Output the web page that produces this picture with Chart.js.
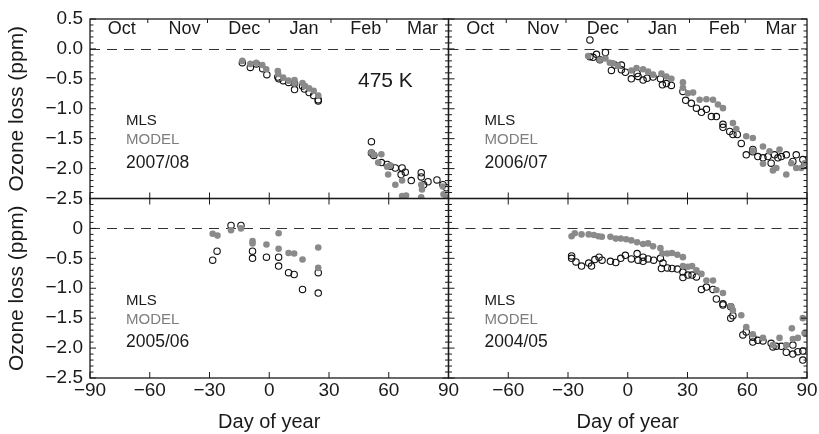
<!DOCTYPE html>
<html>
<head>
<meta charset="utf-8">
<script src="https://cdn.jsdelivr.net/npm/chart.js@4.4.1/dist/chart.umd.min.js"></script>
<style>
html,body{margin:0;padding:0;background:#fff;}
#wrap{position:relative;width:819px;height:434px;}
canvas{display:block;}
</style>
</head>
<body>
<div id="wrap"><canvas id="c" width="819" height="434"></canvas></div>
<script>
// ---------- data (day of year, ozone loss ppm) ----------
const monthNames = ['Oct','Nov','Dec','Jan','Feb','Mar'];
const monthLabelDays = [-74, -42.5, -12.5, 17.5, 48.5, 77];
const monthStartDays = [-61, -31, 0, 31, 59];
const xTickValues = [-90,-60,-30,0,30,60,90];
const yTickValues = [0.5,0,-0.5,-1,-1.5,-2,-2.5];

// 2007/08 (top-left)
const mls0708Days = [-13.5,-9.5,-6.5,-3.3,-1.2,4.3,4.8,7,9.7,12.7,12.7,16.7,17.7,20,22.3,24.6,24.6,51.3,51.3,52.5,56.3,59.2,60.8,63.3,66.2,66.7,68.3,71.3,76.3,76.3,77.5,79.7,84.2,87.2,89];
const mls0708Vals = [-0.23,-0.31,-0.25,-0.33,-0.43,-0.47,-0.50,-0.53,-0.56,-0.58,-0.68,-0.62,-0.67,-0.73,-0.78,-0.85,-0.87,-1.55,-1.74,-1.78,-1.90,-1.93,-1.96,-1.99,-2.10,-1.99,-2.06,-2.20,-2.07,-2.14,-2.27,-2.22,-2.19,-2.27,-2.32];
const mod0708Days = [-13.5,-9.5,-6.5,-3.5,-1.5,4.3,4.5,7,9.7,12.7,12.7,16.7,18,20,22.3,24.6,51.3,52.5,54.7,56.3,59.2,59.7,60.8,63.3,66.7,66.7,68.7,76.3,76.3,76.7,87.2,87.5,89];
const mod0708Vals = [-0.20,-0.25,-0.23,-0.27,-0.34,-0.37,-0.42,-0.48,-0.53,-0.52,-0.58,-0.57,-0.62,-0.66,-0.70,-0.78,-1.73,-1.77,-1.90,-1.76,-1.97,-2.10,-1.95,-2.27,-2.20,-2.46,-2.45,-2.27,-2.48,-2.35,-2.30,-2.43,-2.48];

// 2006/07 (top-right)
const mls0607Days = [-19,-19,-17.4,-15.7,-14,-11.2,-8.2,-6.5,-3.2,-3.2,-1.2,1.8,4.7,5.2,7.7,9.7,12.7,16.4,17.4,19.4,21.9,27.7,29.1,31.9,34.5,37,39.5,42,44.5,47.8,47.8,51.2,52.8,55,57,59.5,62.8,62.8,65.3,67.9,70.4,72,73.7,75.4,77.1,79.6,82.9,84.6,87.9,88.8];
const mls0607Vals = [0.15,-0.13,-0.14,-0.09,-0.18,-0.06,-0.36,-0.27,-0.27,-0.35,-0.39,-0.50,-0.41,-0.46,-0.52,-0.49,-0.47,-0.50,-0.60,-0.58,-0.61,-0.71,-0.86,-0.91,-0.99,-1.06,-1.01,-1.13,-1.13,-1.26,-1.31,-1.38,-1.43,-1.43,-1.58,-1.77,-1.68,-1.72,-1.80,-1.82,-1.80,-1.91,-1.77,-1.82,-1.80,-1.77,-1.88,-1.77,-1.85,-1.93];
const mod0607Days = [-19.9,-14,-11.2,-9,-7.4,-4.9,1.8,4.4,7.7,10.2,12.7,16.9,19.4,21.9,27.7,27.7,30.2,32.8,36.1,39.5,42.8,45.3,47.8,52.8,54.5,59.5,62.8,62.8,67.9,71.2,72.9,74.6,76.2,79.6,82.1,84.6,87.1,88.8,67.9];
const mod0607Vals = [-0.12,-0.18,-0.16,-0.23,-0.24,-0.28,-0.36,-0.32,-0.34,-0.38,-0.43,-0.41,-0.46,-0.50,-0.56,-0.65,-0.74,-0.73,-0.85,-0.84,-0.85,-0.93,-0.99,-1.24,-1.34,-1.46,-1.49,-1.70,-1.63,-1.71,-2.03,-1.99,-1.68,-2.10,-1.91,-1.99,-1.99,-1.91,-1.92];

// 2005/06 (bottom-left)
const mls0506Days = [-28.4,-26.2,-19.2,-14.2,-8.4,-8.4,-1.4,4.7,4.7,9.7,12.5,16.7,24.6,24.6];
const mls0506Vals = [-0.53,-0.38,0.05,0.05,-0.38,-0.50,-0.48,-0.48,-0.63,-0.74,-0.77,-1.02,-0.74,-1.08];
const mod0506Days = [-28.4,-26,-19.2,-14.2,-8.4,-8.4,-1.4,4.7,4.7,9.7,12.5,16.7,24.6,24.6];
const mod0506Vals = [-0.09,-0.12,-0.03,0.0,-0.21,-0.25,-0.27,-0.08,-0.34,-0.41,-0.42,-0.52,-0.32,-0.66];

// 2004/05 (bottom-right)
const mls0405Days = [-28.2,-28.2,-26,-23.2,-19.6,-18.2,-16.5,-14.4,-12.9,-8.7,-6,-3.5,-1.2,1.8,4.7,5.2,7.7,7.7,10.2,13,16.4,16.9,17.7,19.9,22.2,24.9,27.7,27.7,30.2,32.3,34.5,37,39.5,42.8,44.5,47.8,47.8,51.7,51.7,52.8,57.8,59.5,62.8,62.8,65.3,67.9,72,72.9,74.6,77.1,79.6,82.9,82.9,85.4,87.9,87.9];
const mls0405Vals = [-0.46,-0.50,-0.56,-0.63,-0.58,-0.63,-0.52,-0.48,-0.53,-0.55,-0.57,-0.50,-0.45,-0.51,-0.42,-0.53,-0.48,-0.55,-0.51,-0.53,-0.50,-0.67,-0.58,-0.66,-0.67,-0.68,-0.73,-0.82,-0.78,-0.78,-0.81,-1.02,-0.98,-1.02,-1.18,-1.26,-1.28,-1.31,-1.50,-1.46,-1.78,-1.73,-1.90,-1.82,-1.87,-1.88,-1.92,-1.98,-1.97,-1.97,-2.07,-1.95,-2.10,-2.06,-2.05,-2.20];
const mod0405Days = [-28.2,-26.6,-23.2,-19.6,-17,-14.7,-13,-8.7,-6,-3.5,-0.8,1.8,4.7,7.7,10.2,12.7,16.4,17.4,19.9,22.2,24.9,27.7,27.7,30.2,32.3,34.5,37,39.5,42.8,44.5,47.8,51.7,52.8,57,59.5,62.8,67.9,72.9,76.2,79.6,82.4,82.9,85.4,87.9,88.8];
const mod0405Vals = [-0.13,-0.08,-0.10,-0.10,-0.11,-0.13,-0.14,-0.14,-0.17,-0.17,-0.18,-0.20,-0.23,-0.26,-0.25,-0.30,-0.33,-0.42,-0.42,-0.41,-0.44,-0.48,-0.63,-0.64,-0.63,-0.70,-0.76,-0.87,-0.87,-1.03,-1.08,-1.30,-1.37,-1.45,-1.65,-1.77,-1.83,-1.95,-1.83,-1.95,-1.67,-1.85,-1.83,-1.50,-1.75];

// ---------- chart ----------
const FONT = "'Liberation Sans', Arial, Helvetica, sans-serif";
Chart.defaults.font.family = FONT;
const INK = '#1a1a1a';
const GREY = '#8a8a8a';

const pts = (d, v) => d.map((x, i) => ({x: x, y: v[i]}));

const PANELS = [
  {x: 'xL', y: 'yT', year: '2007/08', top: true, tag: '475 K'},
  {x: 'xR', y: 'yT', year: '2006/07', top: true},
  {x: 'xL', y: 'yB', year: '2005/06', top: false},
  {x: 'xR', y: 'yB', year: '2004/05', top: false}
];

function modelSet(d, v, xa, ya) {
  return {label: 'MODEL', data: pts(d, v), xAxisID: xa, yAxisID: ya,
    pointRadius: 3.3, pointBackgroundColor: GREY, pointBorderWidth: 0, showLine: false};
}
function mlsSet(d, v, xa, ya) {
  return {label: 'MLS', data: pts(d, v), xAxisID: xa, yAxisID: ya,
    pointRadius: 3.2, pointBackgroundColor: 'rgba(0,0,0,0)', pointBorderColor: '#111',
    pointBorderWidth: 1.1, showLine: false};
}

const datasets = [
  modelSet(mod0708Days, mod0708Vals, 'xL', 'yT'), mlsSet(mls0708Days, mls0708Vals, 'xL', 'yT'),
  modelSet(mod0607Days, mod0607Vals, 'xR', 'yT'), mlsSet(mls0607Days, mls0607Vals, 'xR', 'yT'),
  modelSet(mod0506Days, mod0506Vals, 'xL', 'yB'), mlsSet(mls0506Days, mls0506Vals, 'xL', 'yB'),
  modelSet(mod0405Days, mod0405Vals, 'xR', 'yB'), mlsSet(mls0405Days, mls0405Vals, 'xR', 'yB')
];

const minus = v => (v < 0 ? '\u2212' : '');
function xScale(isRight) {
  return {
    type: 'linear', position: 'bottom', stack: 'xs', stackWeight: 1,
    min: -90, max: 90,
    afterBuildTicks: s => { s.ticks = xTickValues.map(v => ({value: v})); },
    ticks: {autoSkip: false, maxRotation: 0, padding: 1, color: INK, font: {size: 19},
      callback: v => (isRight && v === -90) ? '' : minus(v) + Math.abs(v)},
    grid: {display: false, drawTicks: false}, border: {display: false},
    title: {display: true, text: 'Day of year', color: INK, font: {size: 20}, padding: {top: 0, bottom: 0}},
    afterFit: s => { s.height = 56; }
  };
}
function yScale(isTop) {
  return {
    type: 'linear', position: 'left', stack: 'ys', stackWeight: 1,
    min: -2.5, max: 0.5,
    afterBuildTicks: s => { s.ticks = yTickValues.map(v => ({value: v})); },
    ticks: {autoSkip: false, padding: 7, color: INK, font: {size: 19},
      callback: v => {
        if (!isTop && v > 0.4) return '';
        if (!isTop && Math.abs(v) < 1e-9) return '0';
        return minus(v) + Math.abs(v).toFixed(1);
      }},
    grid: {display: false, drawTicks: false}, border: {display: false},
    title: {display: true, text: 'Ozone loss (ppm)', color: INK, font: {size: 21}, padding: {top: 5, bottom: 0}},
    afterFit: s => { s.width = 90; }
  };
}

const clipPlugin = {
  id: 'panelClip',
  beforeDatasetDraw(chart, args) {
    const ds = chart.data.datasets[args.index];
    const xs = chart.scales[ds.xAxisID], ys = chart.scales[ds.yAxisID];
    const ctx = chart.ctx;
    ctx.save();
    ctx.beginPath();
    ctx.rect(xs.left, ys.top, xs.right - xs.left, ys.bottom - ys.top);
    ctx.clip();
  },
  afterDatasetDraw(chart) { chart.ctx.restore(); }
};

const decor = {
  id: 'decor',
  beforeDatasetsDraw(chart) {
    const ctx = chart.ctx;
    PANELS.forEach(p => {
      const xs = chart.scales[p.x], ys = chart.scales[p.y];
      const y0 = Math.round(ys.getPixelForValue(0)) + 0.5;
      ctx.save();
      ctx.strokeStyle = '#333';
      ctx.lineWidth = 1;
      ctx.setLineDash([10, 7]);
      ctx.beginPath();
      ctx.moveTo(xs.left, y0);
      ctx.lineTo(xs.right, y0);
      ctx.stroke();
      ctx.restore();
    });
  },
  afterDatasetsDraw(chart) {
    const ctx = chart.ctx;
    ctx.save();
    PANELS.forEach(p => {
      const xs = chart.scales[p.x], ys = chart.scales[p.y];
      const L = xs.left, R = xs.right, T = ys.top, B = ys.bottom;
      ctx.strokeStyle = INK;
      ctx.lineWidth = 1.3;
      ctx.strokeRect(L, T, R - L, B - T);
      ctx.lineWidth = 1;
      ctx.beginPath();
      // y ticks (major 0.5, minor 0.1), both sides, inward
      for (let k = -25; k <= 5; k++) {
        const v = k / 10;
        const py = ys.getPixelForValue(v);
        const len = (k % 5 === 0) ? 6 : 3.5;
        ctx.moveTo(L, py); ctx.lineTo(L + len, py);
        ctx.moveTo(R, py); ctx.lineTo(R - len, py);
      }
      // x ticks every 30 days at bottom (and top of lower panels)
      xTickValues.forEach(v => {
        const px = xs.getPixelForValue(v);
        ctx.moveTo(px, B); ctx.lineTo(px, B - 6);
        if (!p.top) { ctx.moveTo(px, T); ctx.lineTo(px, T + 6); }
      });
      // month boundary ticks at top of upper panels
      if (p.top) {
        monthStartDays.forEach(v => {
          const px = xs.getPixelForValue(v);
          ctx.moveTo(px, T); ctx.lineTo(px, T + 4);
        });
      }
      ctx.stroke();

      // texts
      ctx.textBaseline = 'middle';
      if (p.top) {
        ctx.fillStyle = INK;
        ctx.textAlign = 'center';
        ctx.font = '18px ' + FONT;
        monthNames.forEach((m, i) => {
          ctx.fillText(m, xs.getPixelForValue(monthLabelDays[i]), T + 10.5);
        });
      }
      const y0 = ys.getPixelForValue(0);
      ctx.textAlign = 'left';
      ctx.font = '15px ' + FONT;
      ctx.fillStyle = INK;
      ctx.fillText('MLS', L + 36, y0 + 72);
      ctx.fillStyle = '#7d7d7d';
      ctx.fillText('MODEL', L + 36, y0 + 91);
      ctx.fillStyle = INK;
      ctx.font = '17.5px ' + FONT;
      ctx.fillText(p.year, L + 36, y0 + 114);
      if (p.tag) {
        ctx.font = '21px ' + FONT;
        ctx.fillText(p.tag, L + 268, T + 62);
      }
    });
    ctx.restore();
  }
};

new Chart(document.getElementById('c'), {
  type: 'scatter',
  data: {datasets: datasets},
  options: {
    responsive: false,
    maintainAspectRatio: false,
    animation: false,
    devicePixelRatio: 1,
    layout: {padding: {left: 0, right: 12, top: 19, bottom: 0}},
    plugins: {legend: {display: false}, tooltip: {enabled: false}},
    scales: {
      xL: xScale(false),
      xR: xScale(true),
      yB: yScale(false),
      yT: yScale(true)
    }
  },
  plugins: [clipPlugin, decor]
});
</script>
</body>
</html>
